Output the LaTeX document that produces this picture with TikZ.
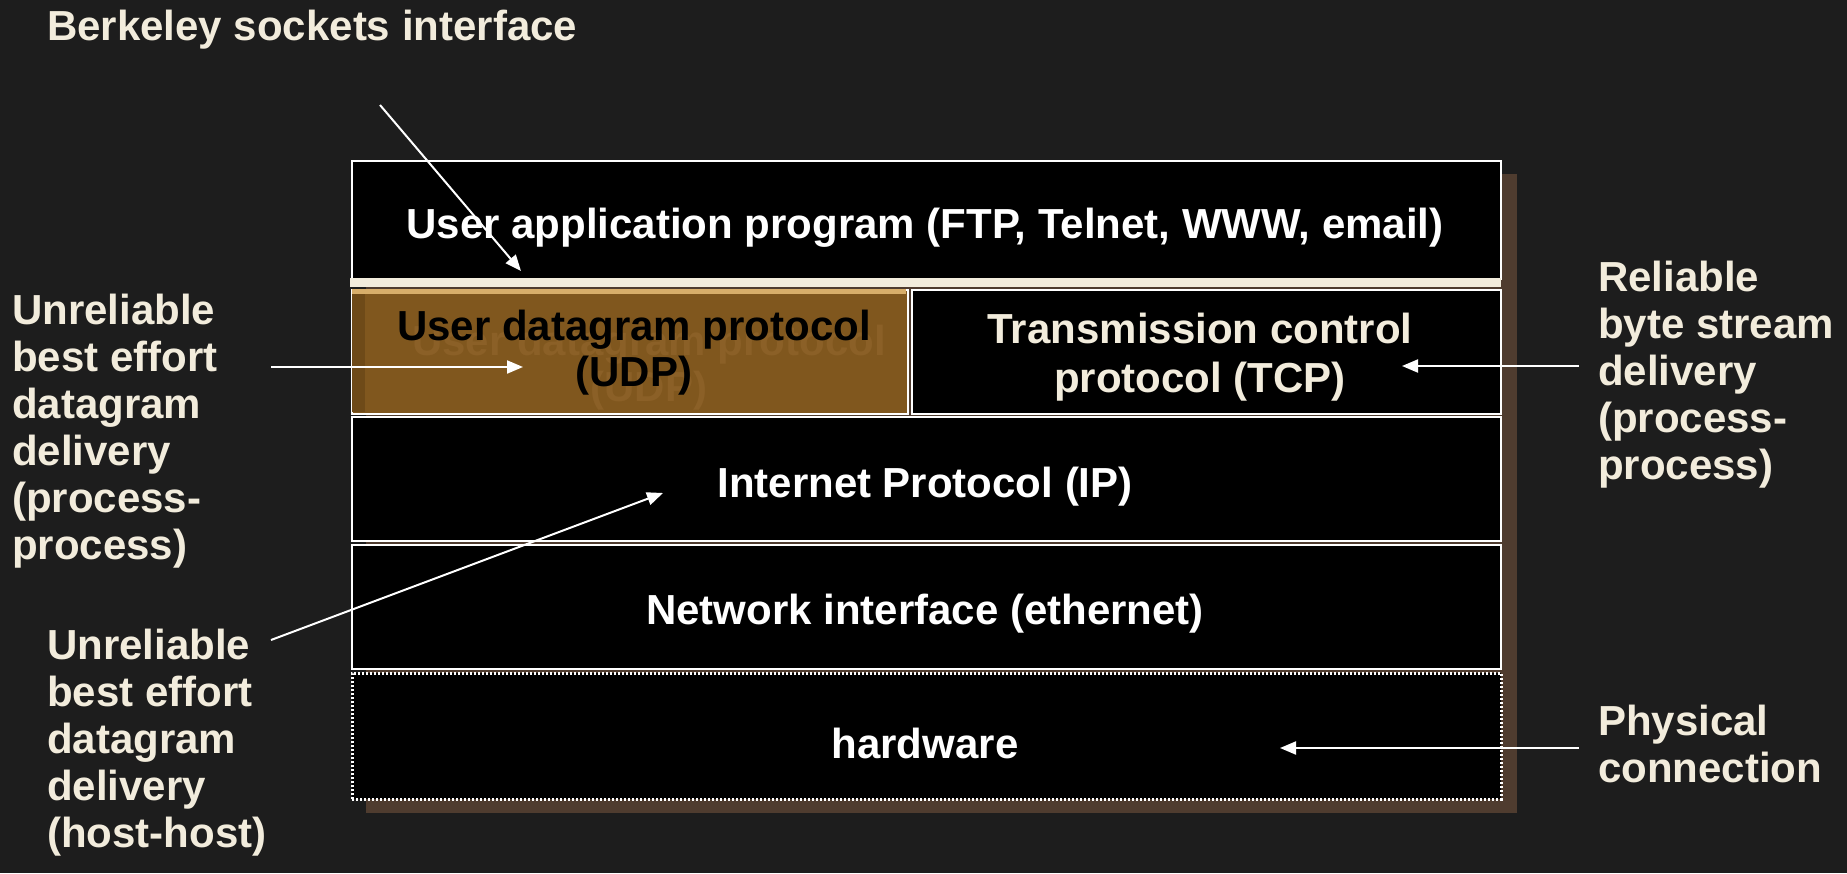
\documentclass[tikz,border=0pt]{standalone}
\usepackage{fontspec}
\setmainfont{Liberation Sans}
\usetikzlibrary{arrows.meta}
\definecolor{bg}{RGB}{29,29,29}
\definecolor{cream}{RGB}{242,236,220}
\definecolor{shadowc}{RGB}{79,60,47}
\definecolor{udpc}{RGB}{128,87,30}
\definecolor{udplight}{RGB}{216,174,106}
\definecolor{udpdark}{RGB}{110,74,24}
\definecolor{ghost}{RGB}{139,96,39}
\begin{document}
\begin{tikzpicture}[x=1pt,y=-1pt,
  layer/.style={rectangle, draw=white, line width=2pt, fill=black, inner sep=0pt, anchor=north west},
  hwlayer/.style={layer, line width=2.5pt, dash pattern=on 2pt off 2pt},
  txt/.style={font=\fontsize{42}{46}\selectfont\bfseries, inner sep=0pt, align=center},
  lbl/.style={font=\fontsize{42}{47}\selectfont\bfseries, text=cream, inner sep=0pt, align=left, anchor=west},
  arr/.style={draw=white, line width=2pt, -{Triangle[length=16pt,width=13pt]}}]
\fill[bg] (0,0) rectangle (1847,873);
\useasboundingbox (0,0) rectangle (1847,873);
% shadow
\fill[shadowc] (366,174) rectangle (1517,813);
% layers
\node[layer, minimum width=1149pt, minimum height=118pt] (app) at (351,160) {};
\fill[cream] (350,278) rectangle (1501,287);
\node[layer, fill=udpc, minimum width=556pt, minimum height=124pt] (udp) at (351,289) {};
\fill[udplight] (352,289) rectangle (906,294);
\fill[udpdark] (352,294) rectangle (365,412);
\node[layer, minimum width=589pt, minimum height=124pt] (tcp) at (911,289) {};
\node[layer, minimum width=1149pt, minimum height=124pt] (ip) at (351,416) {};
\node[layer, minimum width=1149pt, minimum height=124pt] (net) at (351,544) {};
\node[hwlayer, minimum width=1149pt, minimum height=126pt] (hw) at (351,672) {};
% layer texts
\node[txt, text=white] (appT) at (925,228) {User application program (FTP, Telnet, WWW, email)};
\node[txt, text=ghost] (udpG) at (649,368) {User datagram protocol\\(UDP)};
\node[txt, text=black] (udpT) at (634,353) {User datagram protocol\\(UDP)};
\node[txt, text=cream, font=\fontsize{42}{49}\selectfont\bfseries] (tcpT) at (1200,357) {Transmission control\\protocol (TCP)};
\node[txt, text=white] (ipT) at (925,487) {Internet Protocol (IP)};
\node[txt, text=white] (netT) at (925,614) {Network interface (ethernet)};
\node[txt, text=white] (hwT) at (925,743) {hardware};
% side labels
\node[lbl] (bsd) at (47,30) {Berkeley sockets interface};
\node[lbl] (udpL) at (12,431) {Unreliable\\best effort\\datagram\\delivery\\(process-\\process)};
\node[lbl] (ipL) at (47,743) {Unreliable\\best effort\\datagram\\delivery\\(host-host)};
\node[lbl] (tcpL) at (1598,375) {Reliable\\byte stream\\delivery\\(process-\\process)};
\node[lbl] (hwL) at (1598,744) {Physical\\connection};
% arrow ends
\coordinate (bsdS) at (380,105);
\coordinate (bsdE) at (521,271);
\coordinate (udpS) at (271,367);
\coordinate (udpE) at (523,367);
\coordinate (tcpS) at (1579,366);
\coordinate (tcpE) at (1402,366);
\coordinate (ipS) at (271,640);
\coordinate (ipE) at (663,493);
\coordinate (hwS) at (1579,748);
\coordinate (hwE) at (1280,748);
\draw[arr] (bsdS) -- (bsdE);
\draw[arr] (udpS) -- (udpE);
\draw[arr] (tcpS) -- (tcpE);
\draw[arr] (ipS) -- (ipE);
\draw[arr] (hwS) -- (hwE);
\end{tikzpicture}
\end{document}
